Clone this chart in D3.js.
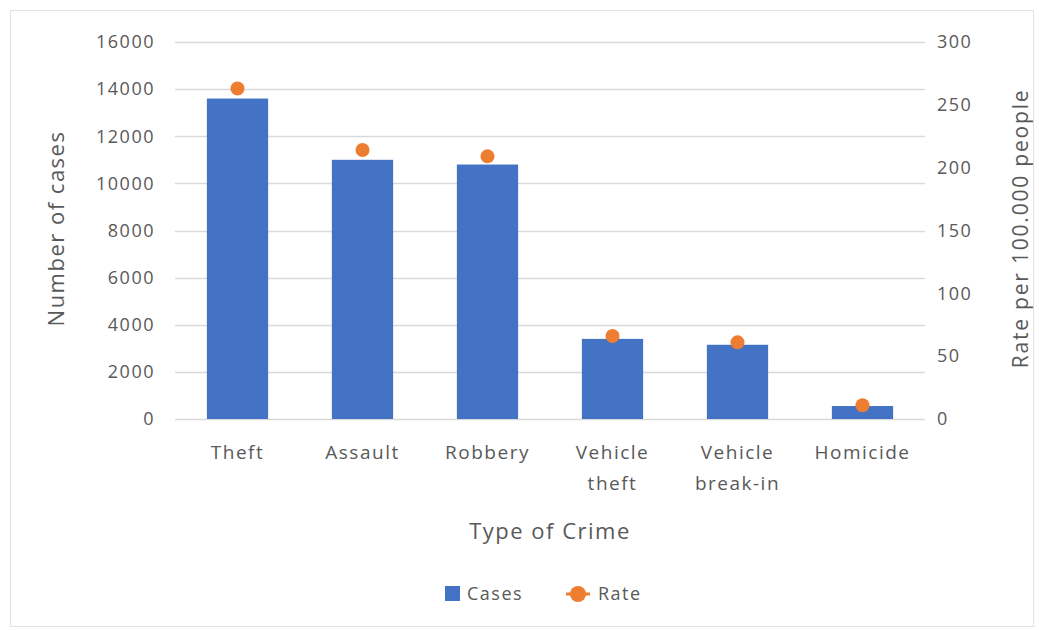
<!DOCTYPE html>
<html>
<head>
<meta charset="utf-8">
<script src="https://cdn.jsdelivr.net/npm/d3@7"></script>
<style>
  body { margin: 0; background: #fff; }
  text { font-family: "Open Sans", "Noto Sans", sans-serif; fill: #595959; }
</style>
</head>
<body>
<div id="chart"></div>
<script>
// data
var crimes = ["Theft", "Assault", "Robbery", "Vehicle theft", "Vehicle break-in", "Homicide"];
var crimeLines = [["Theft"], ["Assault"], ["Robbery"], ["Vehicle", "theft"], ["Vehicle", "break-in"], ["Homicide"]];
var cases = [13600, 11000, 10800, 3400, 3150, 550];
var rates = [263, 214, 209, 66, 61, 11];
var leftTicks = [0, 2000, 4000, 6000, 8000, 10000, 12000, 14000, 16000];
var rightTicks = [0, 50, 100, 150, 200, 250, 300];

var svgWidth = 1039;
var svgHeight = 630;
var margin = { top: 42, right: 114, bottom: 211, left: 175 };
var width = svgWidth - margin.left - margin.right;
var height = svgHeight - margin.top - margin.bottom;

var svg = d3.select("#chart").append("svg")
  .attr("width", svgWidth)
  .attr("height", svgHeight);

// outer chart border
svg.append("rect")
  .attr("x", 10.5).attr("y", 10.5)
  .attr("width", svgWidth - 16).attr("height", svgHeight - 14)
  .attr("fill", "none")
  .attr("stroke", "#e3e3e3");

var chartGroup = svg.append("g")
  .attr("transform", `translate(${margin.left}, ${margin.top})`);

var x = d3.scaleBand().domain(crimes).range([0, width]).paddingInner(0.51).paddingOuter(0.255);
var yLeft = d3.scaleLinear().domain([0, 16000]).range([height, 0]);
var yRight = d3.scaleLinear().domain([0, 300]).range([height, 0]);

// gridlines
chartGroup.append("g")
  .selectAll("line")
  .data(leftTicks)
  .enter()
  .append("line")
  .attr("x1", 0).attr("x2", width)
  .attr("y1", d => Math.round(yLeft(d)) + 0.5)
  .attr("y2", d => Math.round(yLeft(d)) + 0.5)
  .attr("stroke", "#d9d9d9")
  .attr("stroke-width", 1.3);

// left axis
var leftAxis = d3.axisLeft(yLeft).tickValues(leftTicks).tickSize(0).tickPadding(20).tickFormat(d3.format("d"));
var gl = chartGroup.append("g").call(leftAxis);
gl.select(".domain").remove();
gl.selectAll("text").style("font-size", "18px").style("letter-spacing", "1.5px").style("fill", "#595959");

// right axis
var rightAxis = d3.axisRight(yRight).tickValues(rightTicks).tickSize(0).tickPadding(12);
var gr = chartGroup.append("g").attr("transform", `translate(${width}, 0)`).call(rightAxis);
gr.select(".domain").remove();
gr.selectAll("text").style("font-size", "18px").style("letter-spacing", "1.5px").style("fill", "#595959");

// bars
chartGroup.selectAll("rect.bar")
  .data(cases)
  .enter()
  .append("rect")
  .attr("class", "bar")
  .attr("x", (d, i) => x(crimes[i]))
  .attr("y", d => yLeft(d))
  .attr("width", x.bandwidth())
  .attr("height", d => height - yLeft(d))
  .attr("fill", "#4472C4");

// rate markers
chartGroup.selectAll("circle.rate")
  .data(rates)
  .enter()
  .append("circle")
  .attr("class", "rate")
  .attr("cx", (d, i) => x(crimes[i]) + x.bandwidth() / 2)
  .attr("cy", d => yRight(d))
  .attr("r", 7)
  .attr("fill", "#ED7D31");

// category labels
var catLabels = chartGroup.selectAll("text.cat")
  .data(crimeLines)
  .enter()
  .append("text")
  .attr("class", "cat")
  .attr("x", (d, i) => x(crimes[i]) + x.bandwidth() / 2)
  .attr("y", height + 40)
  .style("font-size", "19px")
  .style("letter-spacing", "1.5px")
  .style("text-anchor", "middle");
catLabels.each(function(lines) {
  var t = d3.select(this);
  lines.forEach(function(l, j) {
    t.append("tspan")
      .attr("x", t.attr("x"))
      .attr("dy", j === 0 ? 0 : 31)
      .text(l);
  });
});

// axis titles
svg.append("text")
  .attr("transform", `translate(64, ${margin.top + height / 2 - 2}) rotate(-90)`)
  .style("font-size", "22px")
  .style("letter-spacing", "1.5px")
  .style("text-anchor", "middle")
  .text("Number of cases");

svg.append("text")
  .attr("transform", `translate(1028, ${margin.top + height / 2 - 2}) rotate(-90)`)
  .style("font-size", "21px")
  .style("letter-spacing", "1.8px")
  .style("text-anchor", "middle")
  .text("Rate per 100.000 people");

svg.append("text")
  .attr("x", margin.left + width / 2)
  .attr("y", 539)
  .style("font-size", "22px")
  .style("letter-spacing", "1.5px")
  .style("text-anchor", "middle")
  .text("Type of Crime");

// legend
var legend = svg.append("g").attr("transform", "translate(0, 594)");
legend.append("rect")
  .attr("x", 445).attr("y", -8)
  .attr("width", 15).attr("height", 15)
  .attr("fill", "#4472C4");
legend.append("text")
  .attr("x", 467).attr("y", 6)
  .style("font-size", "18px")
  .style("letter-spacing", "1.5px")
  .text("Cases");
legend.append("line")
  .attr("x1", 566).attr("x2", 590)
  .attr("y1", 0).attr("y2", 0)
  .attr("stroke", "#ED7D31").attr("stroke-width", 3);
legend.append("circle")
  .attr("cx", 578).attr("cy", 0).attr("r", 8)
  .attr("fill", "#ED7D31");
legend.append("text")
  .attr("x", 598).attr("y", 6)
  .style("font-size", "18px")
  .style("letter-spacing", "1.5px")
  .text("Rate");
</script>
</body>
</html>
